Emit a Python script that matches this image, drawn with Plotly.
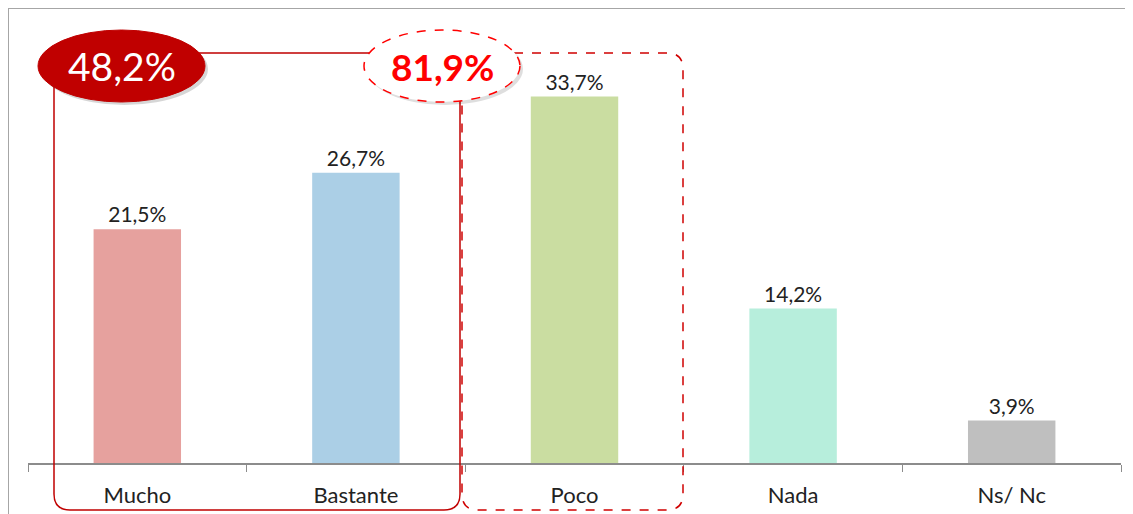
import plotly.graph_objects as go

categories = ["Mucho", "Bastante", "Poco", "Nada", "Ns/ Nc"]
values = [21.5, 26.7, 33.7, 14.2, 3.9]
bar_colors = ["#E6A19E", "#ABCFE6", "#CADDA1", "#B7EEDC", "#BFBFBF"]

# the page body adds an 8px margin, so the figure is drawn 8px smaller
OFF = 8
W, H = 1133 - OFF, 514 - OFF
L, R, T, B = 28 - OFF, 12, 28 - OFF, 51
FONT = "Century Gothic, Lato, sans-serif"

# screen pixel -> paper helpers for the decorations
pw, ph = W - L - R, H - T - B
def px(x):
    return (x - OFF - L) / pw
def py(y):
    return (H - B - (y - OFF)) / ph

def rounded_box(x0, y0, x1, y1, r):
    rx, ry = r / pw, r / ph
    a, b, c, d = px(x0), py(y0), px(x1), py(y1)
    return (f"M{a + rx},{b} L{c - rx},{b} Q{c},{b} {c},{b - ry} "
            f"L{c},{d + ry} Q{c},{d} {c - rx},{d} L{a + rx},{d} "
            f"Q{a},{d} {a},{d + ry} L{a},{b - ry} Q{a},{b} {a + rx},{b} Z")

def fmt(v):
    return f"{v:.1f}".replace(".", ",") + "%"

fig = go.Figure()
fig.add_trace(go.Bar(
    x=categories, y=values, width=0.4,
    marker=dict(color=bar_colors, line=dict(width=0)),
    text=[fmt(v) for v in values], textposition="outside",
    textfont=dict(family=FONT, size=21, color="#222222"),
    cliponaxis=False, hoverinfo="skip",
))

shapes = [
    # chart frame
    dict(type="line", xref="paper", yref="paper", x0=px(8), x1=px(1140), y0=py(8), y1=py(8),
         line=dict(color="#A6A6A6", width=2)),
    dict(type="line", xref="paper", yref="paper", x0=px(8), x1=px(8), y0=py(8), y1=py(520),
         line=dict(color="#A6A6A6", width=2)),
    # group boxes
    dict(type="path", xref="paper", yref="paper", path=rounded_box(54, 53, 460, 510, 16),
         line=dict(color="#C00000", width=1.5)),
    dict(type="path", xref="paper", yref="paper", path=rounded_box(462, 53, 683, 510, 16),
         line=dict(color="#D00000", width=1.5, dash="dash")),
    # ellipse shadows
    dict(type="circle", xref="paper", yref="paper", x0=px(41), x1=px(208), y0=py(33), y1=py(105),
         fillcolor="rgba(0,0,0,0.16)", line=dict(width=0)),
    dict(type="circle", xref="paper", yref="paper", x0=px(367), x1=px(523), y0=py(33), y1=py(105),
         fillcolor="rgba(0,0,0,0.13)", line=dict(width=0)),
    # ellipses
    dict(type="circle", xref="paper", yref="paper", x0=px(38), x1=px(205), y0=py(30), y1=py(102),
         fillcolor="#C00000", line=dict(color="#C00000", width=1)),
    dict(type="circle", xref="paper", yref="paper", x0=px(364), x1=px(520), y0=py(30), y1=py(102),
         fillcolor="white", line=dict(color="#FF0000", width=1.5, dash="dash")),
]

annotations = [
    dict(xref="paper", yref="paper", x=px(122), y=py(66), xanchor="center", yanchor="middle",
         text=fmt(sum(values[:2])), showarrow=False,
         font=dict(family=FONT, size=39, color="white")),
    dict(xref="paper", yref="paper", x=px(442), y=py(66), xanchor="center", yanchor="middle",
         text="<b>" + fmt(sum(values[:3])) + "</b>", showarrow=False,
         font=dict(family=FONT, size=37, color="#FF0000")),
]

fig.update_layout(
    width=W, height=H,
    margin=dict(l=L, r=R, t=T, b=B),
    plot_bgcolor="white", paper_bgcolor="white",
    showlegend=False,
    shapes=shapes, annotations=annotations,
    xaxis=dict(showline=True, linecolor="#8C8C8C", linewidth=1.5,
               ticks="outside", tickson="boundaries", ticklen=7, tickcolor="#8C8C8C",
               tickfont=dict(family=FONT, size=22, color="#222222"),
               ticklabelstandoff=12, automargin=False,
               showgrid=False, fixedrange=True),
    yaxis=dict(range=[0, 40], visible=False, showgrid=False, zeroline=False),
    bargap=0.6,
)

fig.write_html("out.html")
